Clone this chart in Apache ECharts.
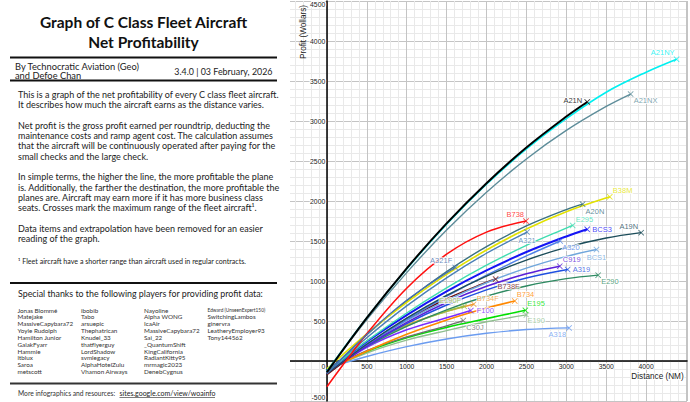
<!DOCTYPE html>
<html><head><meta charset="utf-8">
<script src="https://cdn.jsdelivr.net/npm/echarts@6/dist/echarts.min.js"></script>
<style>html,body{margin:0;padding:0;background:#fff;overflow:hidden}#c{width:690px;height:402px}</style>
</head><body><div id="c"></div>
<script>
// ---- DATA: [distance NM, profit Wollars] ----
const A21N  = [[0,-140],[500,538],[1000,1158],[1500,1720],[2000,2223],[2500,2669],[3000,3056],[3262,3238]];
const A21NY = [[0,-130],[500,540],[1000,1150],[1500,1710],[2000,2210],[2500,2650],[3000,3030],[3500,3360],[4000,3610],[4382,3772]];
const A21NX = [[0,-130],[500,517],[1000,1105],[1500,1637],[2000,2109],[2500,2525],[3000,2882],[3500,3182],[3806,3337]];
const B38M  = [[0,-100],[500,338],[1000,732],[1500,1082],[2000,1388],[2500,1649],[3000,1866],[3545,2052]];
const A20N  = [[0,-150],[500,327],[1000,750],[1500,1117],[2000,1430],[2500,1688],[3000,1893],[3204,1960]];
const B738  = [[0,-323],[500,340],[1000,910],[1500,1335],[2000,1611],[2495,1749]];
const E295  = [[0,-130],[500,251],[1000,600],[1500,915],[2000,1197],[2500,1446],[3000,1662],[3080,1695]];
const A321  = [[0,-150],[500,291],[1000,689],[1500,1040],[2000,1347],[2508,1612]];
const BCS3  = [[0,-120],[500,243],[1000,574],[1500,870],[2000,1132],[2500,1362],[3000,1557],[3262,1646]];
const A19N  = [[0,-160],[500,209],[1000,535],[1500,820],[2000,1062],[2500,1262],[3000,1420],[3500,1537],[3938,1604]];
const A320  = [[0,-130],[500,205],[1000,517],[1500,807],[2000,1072],[2500,1313],[2923,1500]];
const BCS1  = [[0,-110],[500,216],[1000,506],[1500,759],[2000,978],[2500,1160],[3000,1307],[3378,1393]];
const C919  = [[0,-150],[500,189],[1000,483],[1500,731],[2000,933],[2500,1090],[2918,1185]];
const A319  = [[0,-130],[500,189],[1000,467],[1500,700],[2000,890],[2500,1038],[3017,1144]];
const E290  = [[0,-100],[500,185],[1000,433],[1500,640],[2000,809],[2500,938],[3000,1029],[3399,1073]];
const B738F = [[0,-170],[500,200],[1000,515],[1500,777],[2000,984],[2114,1024]];
const B734  = [[0,-120],[500,122],[1000,333],[1500,513],[2000,663],[2354,750]];
const E195  = [[0,-100],[500,120],[1000,290],[1500,420],[2000,530],[2487,634]];
const E190  = [[0,-110],[500,100],[1000,260],[1500,380],[2000,490],[2500,576]];
const A318  = [[0,-90],[500,56],[1000,179],[1500,275],[2000,346],[2500,393],[3035,414]];
const A321F = [[0,-160],[500,330],[1000,760],[1608,1169]];
const E190F = [[0,-140],[500,200],[1000,440],[1500,620],[1720,684]];
const B734F = [[0,-150],[500,200],[1000,450],[1500,620],[1840,710]];
const F100  = [[0,-160],[500,170],[1000,390],[1500,540],[1803,630]];
const C30J  = [[0,-120],[500,130],[1000,300],[1500,440],[1708,505]];

const curves = {A21N,A21NY,A21NX,B38M,A20N,B738,E295,A321,BCS3,A19N,A320,BCS1,C919,A319,E290,B738F,B734,E195,E190,A318,A321F,E190F,B734F,F100,C30J};
const drawOrder = ['A318','E190','E195','C30J','F100','B734F','E190F','B734','B738F','E290','A319','C919','BCS1','A320','A19N','BCS3','A321','E295','A20N','B38M','B738','A321F','A21NX','A21NY','A21N'];

const xTicks = [-500,0,500,1000,1500,2000,2500,3000,3500,4000,4500];
const yTicks = [-500,0,500,1000,1500,2000,2500,3000,3500,4000,4500];

// left panel text
const titleLines = ['Graph of C Class Fleet Aircraft','Net Profitability'];
const bodyLines = [
 'This is a graph of the net profitability of every C class fleet aircraft.',
 'It describes how much the aircraft earns as the distance varies.',
 '',
 'Net profit is the gross profit earned per roundtrip, deducting the',
 'maintenance costs and ramp agent cost. The calculation assumes',
 'that the aircraft will be continuously operated after paying for the',
 'small checks and the large check.',
 '',
 'In simple terms, the higher the line, the more profitable the plane',
 'is. Additionally, the farther the destination, the more profitable the',
 'planes are. Aircraft may earn more if it has more business class',
 'seats. Crosses mark the maximum range of the fleet aircraft\u00b9.',
 '',
 'Data items and extrapolation have been removed for an easier',
 'reading of the graph.'
];
const footnote = '\u00b9 Fleet aircraft have a shorter range than aircraft used in regular contracts.';
const names1 = ['Jonas Blommé','Matejake','MassiveCapybara72','Yoyle Rudolph','Hamilton Junior','GalakFyarr','Hammie','ltblux','Saroa','metscott'];
const names2 = ['ibobib','Tabo','arsuepic','Thephatrican','Knudel_33','thatflyerguy','LordShadow','svmlegacy','AlphaHotelZulu','Vhamon Airways'];
const names3 = ['Nayoline','Alpha WONG','IcaAir','MassiveCapybara72','Sai_22','_QuantumShift','KingCalifornia','RadiantKitty95','mrmagic2023','DenebCygnus'];
const names4 = ['Edward (UnseenExpert150)','SwitchingLambos','ginervra','LeatheryEmployer93','Tony144562'];

// ---- STYLES ----
const styles = {
 A21N:{c:'#000000',w:2,l:['right',-5,-1]},
 A21NY:{c:'#00f0f0',w:1.6,l:['right',-2,-7]},
 A21NX:{c:'#5e8d9a',w:1.4,l:['left',3,6]},
 B38M:{c:'#e2e200',w:1.6,l:['left',3,-6]},
 A20N:{c:'#3b7282',w:1.4,l:['left',3,7]},
 B738:{c:'#ff1010',w:1.6,l:['right',-2,-7]},
 E295:{c:'#3fddb0',w:1.4,l:['left',3,-6]},
 A321:{c:'#4a7fb5',w:1.4,l:['center',0,8]},
 BCS3:{c:'#1515f5',w:2,l:['left',5,0]},
 A19N:{c:'#1c4d5a',w:1.4,l:['right',-3,-6]},
 A320:{c:'#4f80e6',w:1.4,l:['left',2,6]},
 BCS1:{c:'#6fa6dc',w:1.4,l:['center',0,8]},
 C919:{c:'#5a1fd8',w:1.6,l:['left',3,-7]},
 A319:{c:'#1f4fe0',w:1.4,l:['left',5,0]},
 E290:{c:'#2e8a62',w:1.4,l:['left',3,6]},
 B738F:{c:'#6e1212',w:1.6,l:['left',2,7]},
 B734:{c:'#ff8800',w:1.6,l:['left',2,-7]},
 E195:{c:'#00e000',w:1.6,l:['left',2,-7]},
 E190:{c:'#8fbf8f',w:1.4,l:['left',1,6]},
 A318:{c:'#6b9cf0',w:1.4,l:['right',-3,7]},
 A321F:{c:'#4870b0',w:1.4,l:['right',-3,-7]},
 E190F:{c:'#98c040',w:1.4,l:['right',-3,-6]},
 B734F:{c:'#f09a30',w:1.4,l:['left',3,-6]},
 F100:{c:'#7a2cff',w:1.6,l:['left',6,0]},
 C30J:{c:'#6e6e6e',w:1.4,l:['left',3,7]}
};
const CROSS = 'path://M0,1L1,0L5,4L9,0L10,1L6,5L10,9L9,10L5,6L1,10L0,9L4,5Z';
const axisFont = '"Liberation Sans", Arial, sans-serif';
const panelFont = 'Lato, "Noto Sans", sans-serif';

const series = drawOrder.map(k => ({
  type:'line', name:k, data:curves[k], smooth:0.35, symbol:'none', silent:true,
  lineStyle:{color:styles[k].c, width:styles[k].w}, z:2
}));
series.push({
  type:'scatter', symbol:CROSS, symbolSize:6, z:5, silent:true,
  label:{show:true, fontSize:7.5, fontFamily:axisFont, textBorderColor:'#fff', textBorderWidth:2},
  data: drawOrder.map(k => {
    const pts = curves[k], s = styles[k];
    return {value:pts[pts.length-1], itemStyle:{color:s.c},
      label:{formatter:k, position:'inside', align:s.l[0], verticalAlign:'middle', offset:[s.l[1], s.l[2]], color:s.c}};
  })
});

// ---- left panel graphics ----
const g = [];
g.push({type:'rect', shape:{x:0,y:0,width:290,height:402}, style:{fill:'#fff'}, z:100});
function T(text,x,y,size,o){o=o||{};g.push({type:'text',x:x,y:y,z:101,style:{text:text,fill:o.fill||'#222',fontSize:size,fontFamily:o.ff||panelFont,fontWeight:o.fw||'normal',align:o.align||'left',verticalAlign:'middle'}});}
function L(x1,y1,x2,y2,w,c){g.push({type:'line',z:101,shape:{x1:x1,y1:y1,x2:x2,y2:y2},style:{stroke:c||'#111',lineWidth:w}});}
T(titleLines[0],143.5,22,15.5,{align:'center',fw:'bold',fill:'#111'});
T(titleLines[1],143.5,42,15.5,{align:'center',fw:'bold',fill:'#111'});
L(10,57.5,277,57.5,2);
T('By Technocratic Aviation (Geo)',15,66,9.3);
T('and Defoe Chan',15,75.5,9.3);
T('3.4.0 | 03 February, 2026',272.5,71,8.9,{align:'right'});
L(10,80.5,277,80.5,2);
bodyLines.forEach((s,i)=>{ if(s) T(s,18,94.3+i*10.3,9); });
T(footnote,18,261,7.1);
L(10,283,277,283,1.8);
T('Special thanks to the following players for providing profit data:',18,293,8.85);
[names1,names2,names3,names4].forEach((col,ci)=>{
  const x=[17.5,81,144,207.5][ci];
  col.forEach((n,ri)=>{ T(n,x,310+ri*6.85,(ci===3&&ri===0)?4.8:6.3,{fill:'#333'}); });
});
L(10,383.5,277,383.5,2.2,'#333');
T('More infographics and resources:',18,393,6.7,{fill:'#333'});
T('sites.google.com/view/woainfo',119.5,393,7,{fill:'#222'});
L(119.5,397.5,215,397.5,0.7,'#444');
// axis titles
g.push({type:'text',x:303.5,y:32,rotation:Math.PI/2,z:6,style:{text:'Profit (Wollars)',fill:'#222',fontSize:8.2,fontFamily:axisFont,align:'center',verticalAlign:'middle'}});
g.push({type:'text',x:657.5,y:376,z:6,style:{text:'Distance (NM)',fill:'#222',fontSize:8.2,fontFamily:axisFont,align:'center',verticalAlign:'middle',stroke:'#fff',lineWidth:2}});

const chart = echarts.init(document.getElementById('c'), null, {renderer:'svg'});
const gridLeft = 287, pxPerUnit = 402/5000;
const zeroOffset = -(0 - xTicks[0]) * pxPerUnit;
chart.setOption({
  animation:false,
  grid:{left:gridLeft,right:0,top:0,bottom:0,containLabel:false},
  xAxis:{type:'value', position:'bottom', offset:zeroOffset, min:xTicks[0], max:xTicks[0]+(690-gridLeft)/pxPerUnit, interval:500,
    axisLine:{onZero:false, lineStyle:{color:'#000',width:1.5}}, axisTick:{show:false},
    axisLabel:{margin:2, fontSize:6.8, fontFamily:axisFont, color:'#222', textBorderColor:'#fff', textBorderWidth:2,
      formatter:v => (v<=0||v>4000)?'':String(v)},
    splitLine:{show:true, lineStyle:{color:'#c4c4c4',width:1}},
    minorTick:{show:false, splitNumber:5},
    minorSplitLine:{show:true, lineStyle:{color:'#e9e9e9',width:1}}},
  yAxis:{type:'value', position:'left', offset:zeroOffset, min:yTicks[0], max:yTicks[yTicks.length-1], interval:500,
    axisLine:{onZero:false, lineStyle:{color:'#000',width:1.5}}, axisTick:{show:false},
    axisLabel:{margin:2, fontSize:6.8, fontFamily:axisFont, color:'#222', textBorderColor:'#fff', textBorderWidth:2,
      verticalAlignMinLabel:'bottom', verticalAlignMaxLabel:'top',
      formatter:v => v===0?'{z|0}':String(v), rich:{z:{padding:[10,0,0,0], fontSize:6.8, fontFamily:axisFont}}},
    splitLine:{show:true, lineStyle:{color:'#c4c4c4',width:1}},
    minorTick:{show:false, splitNumber:5},
    minorSplitLine:{show:true, lineStyle:{color:'#e9e9e9',width:1}}},
  series: series,
  graphic: g
});
</script></body></html>
